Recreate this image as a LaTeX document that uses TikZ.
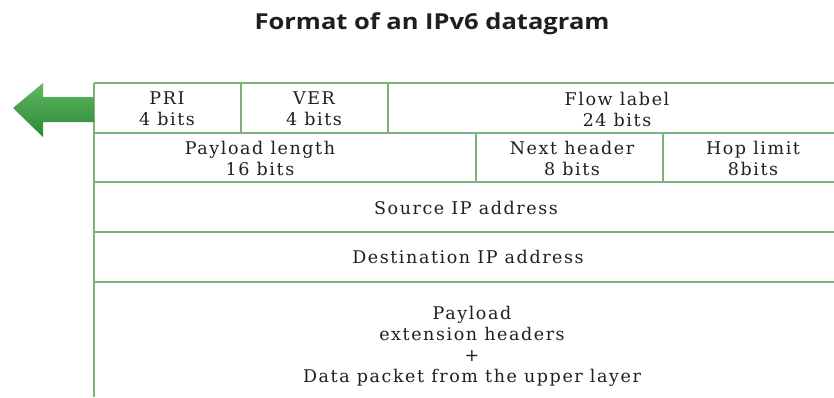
\documentclass[tikz,border=0pt]{standalone}
\usepackage{fontspec}
\setmainfont{DejaVu Serif}[LetterSpace=9]
\newfontfamily\titlefont{Open Sans}[FakeStretch=1.16]
\definecolor{gridgreen}{RGB}{125,178,125}
\definecolor{arrowlight}{RGB}{95,185,95}
\definecolor{arrowdark}{RGB}{45,135,55}
\tikzset{
  grid line/.style={draw=gridgreen, line width=2.2pt},
  cell/.style={align=center, font=\fontsize{17.5}{21}\selectfont, text=black!88, inner sep=0pt},
  title/.style={font=\titlefont\bfseries\fontsize{22}{24}\selectfont, text=black!88, inner sep=0pt}
}
\begin{document}
\begin{tikzpicture}[x=1pt,y=-1pt]
\useasboundingbox (0,0) rectangle (834,397);
% title
\node[title] (ttl) at (432,24) {Format of an IPv6 datagram};
% corner coordinates
\coordinate (tl) at (94,83);
\coordinate (tr) at (834,83);
\coordinate (bl) at (94,397);
\coordinate (r1l) at (94,133);  \coordinate (r1r) at (834,133);
\coordinate (r2l) at (94,182);  \coordinate (r2r) at (834,182);
\coordinate (r3l) at (94,232);  \coordinate (r3r) at (834,232);
\coordinate (r4l) at (94,282);  \coordinate (r4r) at (834,282);
\coordinate (c1t) at (241,83);  \coordinate (c1b) at (241,133);
\coordinate (c2t) at (388,83);  \coordinate (c2b) at (388,133);
\coordinate (c3t) at (476,133); \coordinate (c3b) at (476,182);
\coordinate (c4t) at (663,133); \coordinate (c4b) at (663,182);
% grid
\draw[grid line] (tl) -- (tr);
\draw[grid line] (r1l) -- (r1r);
\draw[grid line] (r2l) -- (r2r);
\draw[grid line] (r3l) -- (r3r);
\draw[grid line] (r4l) -- (r4r);
\draw[grid line] (tl) -- (bl);
\draw[grid line] (c1t) -- (c1b);
\draw[grid line] (c2t) -- (c2b);
\draw[grid line] (c3t) -- (c3b);
\draw[grid line] (c4t) -- (c4b);
% arrow
\shade[top color=arrowlight, bottom color=arrowdark]
  (13,108) -- (43,83) -- (43,97) -- (94,97) -- (94,122) -- (43,122) -- (43,137) -- cycle;
% cells
\node[cell] (pri) at (167,109) {PRI\\4 bits};
\node[cell] (ver) at (314,109) {VER\\4 bits};
\node[cell] (flow) at (617,109) {Flow label\\24 bits};
\node[cell] (plen) at (260,158) {Payload length\\16 bits};
\node[cell] (nh) at (572,158) {Next header\\8 bits};
\node[cell] (hop) at (753,158) {Hop limit\\8bits};
\node[cell] (src) at (466,208) {Source IP address};
\node[cell] (dst) at (468,257) {Destination IP address};
\node[cell] (pay) at (472,346) {Payload\\extension headers\\+\\Data packet from the upper layer};
\end{tikzpicture}
\end{document}
